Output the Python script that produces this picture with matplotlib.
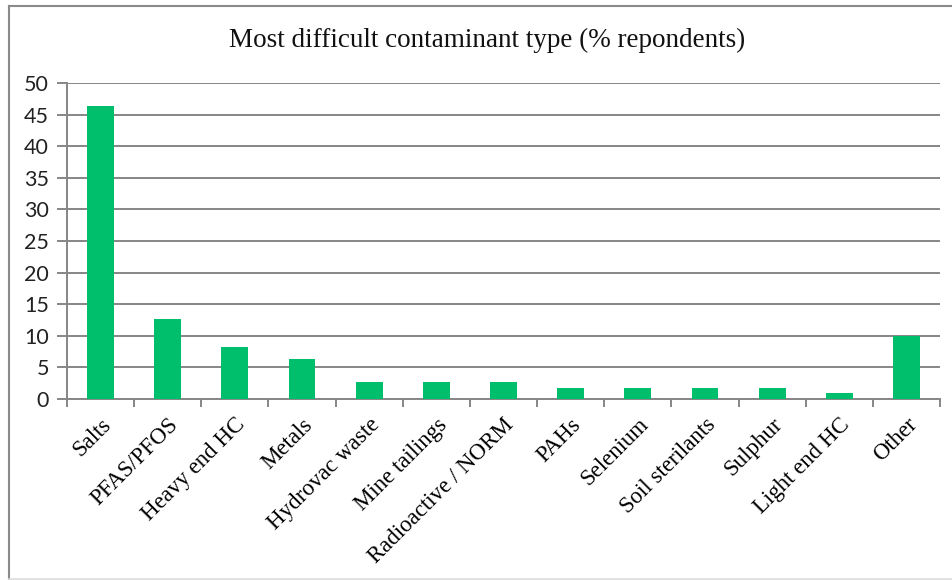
import matplotlib
matplotlib.use("Agg")
import matplotlib.pyplot as plt
from matplotlib.lines import Line2D
import numpy as np

categories = ["Salts", "PFAS/PFOS", "Heavy end HC", "Metals", "Hydrovac waste",
              "Mine tailings", "Radioactive / NORM", "PAHs", "Selenium",
              "Soil sterilants", "Sulphur", "Light end HC", "Other"]
values = [46.4, 12.7, 8.2, 6.4, 2.7, 2.7, 2.7, 1.8, 1.8, 1.8, 1.8, 0.9, 10.0]
yticks = [0, 5, 10, 15, 20, 25, 30, 35, 40, 45, 50]
title = "Most difficult contaminant type (% repondents)"

W, H = 952, 580
fig = plt.figure(figsize=(W / 100, H / 100), dpi=100)
ax = fig.add_axes([67 / W, 1 - 399 / H, (940 - 67) / W, (399 - 83) / H])

grid_c = "#868686"
x = np.arange(len(categories))
ax.bar(x, values, width=0.4, color="#00BF6C", zorder=3)

ax.set_xlim(-0.5, len(categories) - 0.5)
ax.set_ylim(0, 50)
ax.set_yticks(yticks)
ax.set_yticklabels([str(t) for t in yticks], fontsize=15.5, family="Lato", color="#222222")
ax.yaxis.grid(True, color=grid_c, linewidth=1.4, zorder=0)
ax.set_axisbelow(True)

ax.set_xticks(np.arange(len(categories) + 1) - 0.5)
ax.set_xticklabels([])
ax.set_xticks(x, minor=True)
ax.set_xticklabels(categories, minor=True, rotation=45, ha="right", va="top",
                   rotation_mode="anchor", fontsize=16.5, family="Liberation Serif")
ax.tick_params(axis="x", which="minor", length=0, pad=11)
ax.tick_params(axis="x", which="major", length=6, width=1.4, color=grid_c, direction="out")
ax.tick_params(axis="y", length=7, width=1.4, color=grid_c, direction="out", pad=6)

for s in ["top", "right"]:
    ax.spines[s].set_visible(False)
for s in ["left", "bottom"]:
    ax.spines[s].set_color(grid_c)
    ax.spines[s].set_linewidth(1.4)

fig.text(487 / W, 1 - 40 / H, title, ha="center", va="center",
         fontsize=19.5, family="Liberation Serif", color="#111111")

# chart border
fig.add_artist(Line2D([9 / W, 9 / W], [0, 1 - 6 / H], transform=fig.transFigure,
                      color="#8a8a8a", linewidth=1.5))
fig.add_artist(Line2D([9 / W, 1], [1 - 6 / H, 1 - 6 / H], transform=fig.transFigure,
                      color="#8a8a8a", linewidth=1.5))
fig.add_artist(Line2D([9 / W, 1], [1 - 578.5 / H, 1 - 578.5 / H], transform=fig.transFigure,
                      color="#dddddd", linewidth=1.2))

fig.savefig("out.png", dpi=100)
